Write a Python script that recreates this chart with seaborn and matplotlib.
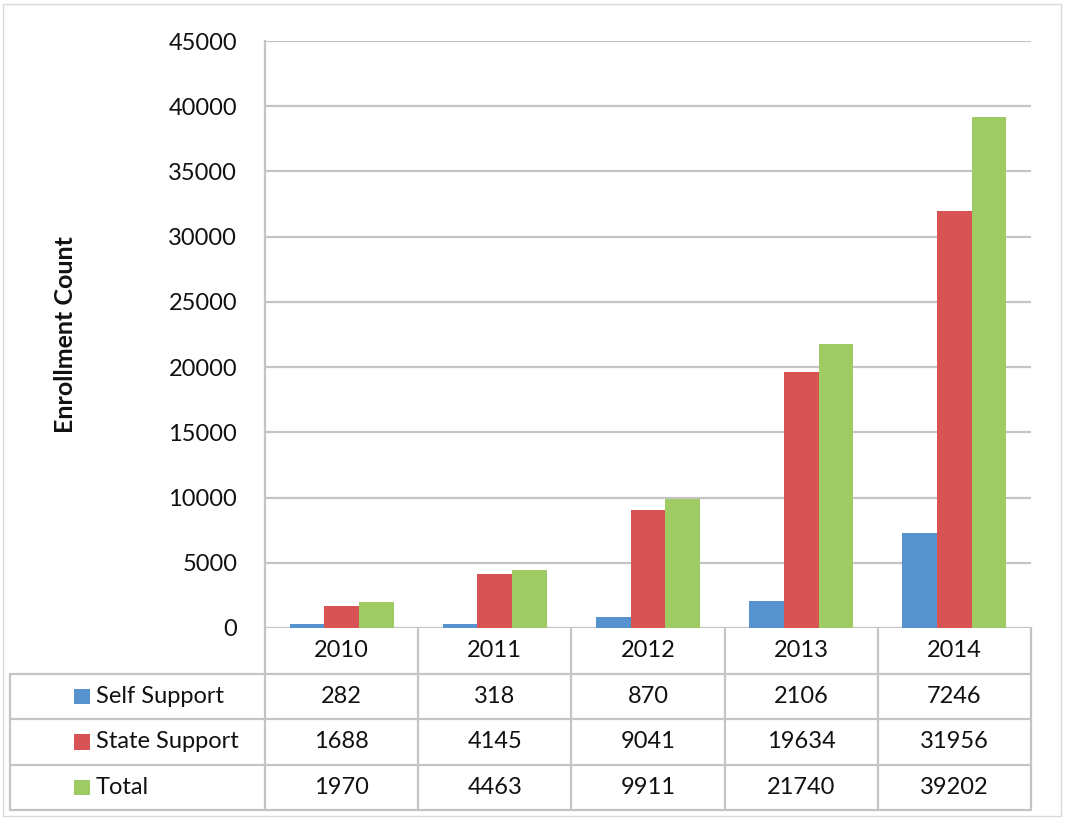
import numpy as np
import pandas as pd
import matplotlib
matplotlib.use("Agg")
import matplotlib.pyplot as plt
import seaborn as sns
from matplotlib.patches import Rectangle

# Data
years = ["2010", "2011", "2012", "2013", "2014"]
series = ["Self Support", "State Support", "Total"]
self_support = [282, 318, 870, 2106, 7246]
state_support = [1688, 4145, 9041, 19634, 31956]
total = [1970, 4463, 9911, 21740, 39202]
colors = ["#5692cd", "#d85353", "#9ecb64"]

df = pd.DataFrame({
    "year": years * 3,
    "series": [s for s in series for _ in years],
    "value": self_support + state_support + total,
})

sns.set_style("white")
plt.rcParams["font.family"] = ["Lato", "DejaVu Sans"]
grid_col = "#c4c4c4"
txt_col = "#111111"
fs = 17

fig = plt.figure(figsize=(10.67, 8.22), dpi=100)
W, H = 1067, 822

# main chart area
ax = fig.add_axes([265 / W, 1 - 628 / H, 766 / W, 587 / H])
sns.barplot(data=df, x="year", y="value", hue="series", palette=colors,
            saturation=1, width=0.68, legend=False, linewidth=0, ax=ax)
ax.set_xlim(-0.5, len(years) - 0.5)
ax.set_ylim(0, 45000)
ax.set_yticks(np.arange(0, 45001, 5000))
ax.yaxis.grid(True, color=grid_col, lw=1.6)
ax.set_axisbelow(True)
ax.tick_params(axis="y", length=0, pad=20, labelsize=fs, labelcolor=txt_col)
ax.set_xticks([])
ax.set_xlabel("")
ax.set_ylabel("Enrollment Count", fontsize=18, fontweight="bold", color=txt_col)
ax.yaxis.set_label_coords(-0.245, 0.5)
for side in ["top", "right", "bottom"]:
    ax.spines[side].set_visible(False)
ax.spines["left"].set_color(grid_col)
ax.spines["left"].set_linewidth(1.6)

# data table below the chart
label_w = 255 / 153.2
tax = fig.add_axes([10 / W, 1 - 810 / H, 1021 / W, 182 / H])
tax.set_xlim(-0.5 - label_w, len(years) - 0.5)
tax.set_ylim(0, 4)
tax.axis("off")
left = -0.5 - label_w
right = len(years) - 0.5
for yy in [0, 1, 2, 3]:
    tax.plot([left, right], [yy, yy], color=grid_col, lw=1.6, clip_on=False)
tax.plot([left, left], [0, 3], color=grid_col, lw=1.6, clip_on=False)
for xx in np.arange(-0.5, right + 0.01, 1):
    tax.plot([xx, xx], [0, 4], color=grid_col, lw=1.6, clip_on=False)

for i, yr in enumerate(years):
    tax.text(i, 3.5, yr, ha="center", va="center", fontsize=fs, color=txt_col)

rows = [self_support, state_support, total]
for r, (name, vals, col) in enumerate(zip(series, rows, colors)):
    yc = 2.5 - r
    tax.add_patch(Rectangle((left + 0.42, yc - 0.18), 0.1, 0.34, color=col, lw=0))
    tax.text(left + 0.56, yc, name, ha="left", va="center", fontsize=fs, color=txt_col)
    for i, v in enumerate(vals):
        tax.text(i, yc, str(v), ha="center", va="center", fontsize=fs, color=txt_col)

# light outer frame
fig.patches.append(Rectangle((3 / W, 6 / H), 1058 / W, 812 / H, transform=fig.transFigure,
                             fill=False, edgecolor="#d9d9d9", lw=1))

fig.savefig("out.png", dpi=100)
